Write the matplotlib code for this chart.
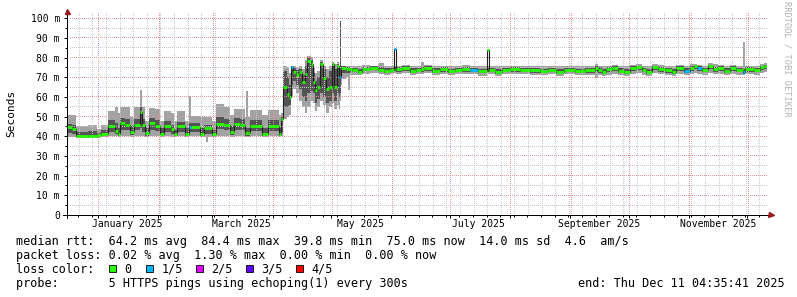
import datetime as dt
import matplotlib
matplotlib.use("Agg")
import matplotlib.pyplot as plt
import matplotlib.dates as mdates
from matplotlib.patches import Rectangle
from matplotlib.ticker import NullFormatter
from matplotlib.transforms import blended_transform_factory, IdentityTransform
import numpy as np

W, H = 797, 297
MONO = "DejaVu Sans Mono"

# 360 day window ending at the probe time
start = dt.datetime(2024, 12, 16, 4, 35, 41)
span_days = 360

# step start, days after window start (values in ms)
day = [0.0, 2.6, 4.6, 10.8, 15.4, 17.5, 21.1, 24.7, 26.2, 27.3,
       29.8, 32.4, 34.5, 37.6, 38.6, 40.1, 42.2, 45.3, 47.8, 49.9,
       53.5, 55.0, 56.6, 60.7, 62.8, 63.8, 68.4, 70.5, 71.5, 72.5,
       74.6, 76.6, 80.8, 83.8, 85.9, 89.0, 91.6, 92.1, 93.1, 94.1,
       100.3, 103.4, 109.1, 110.1,
       111.1, 113.2, 114.2, 115.2, 116.3, 117.8, 119.3, 120.9, 122.4, 123.5,
       125.5, 126.5, 127.6, 128.6, 130.1, 131.7, 133.2, 134.8, 136.3, 137.3,
       138.9, 139.9, 140.4, 140.9, 141.5, 143.5, 144.5, 145.6,
       146.6, 149.7, 151.7, 155.9, 160.0, 163.1, 166.2, 168.2, 169.2, 172.3,
       176.4, 179.5, 182.1, 183.6, 187.8, 191.9, 196.0, 199.6, 203.2, 207.3,
       211.4, 216.0, 217.1, 220.2, 223.8, 227.9, 233.0, 238.2, 243.3, 247.4,
       251.5, 255.7, 261.3, 266.5, 271.6, 273.1, 275.2, 277.3, 280.3, 283.4,
       286.5, 289.6, 292.7, 295.8, 297.8, 300.9, 304.0, 307.6, 311.2, 313.3,
       317.4, 320.5, 322.5, 324.1, 326.6, 329.7, 332.3, 334.9, 338.0, 341.0,
       344.1, 347.7, 348.8, 353.4, 356.5, 358.5]

median = [44.5, 43.5, 40.2, 40.0, 40.5, 41.0, 45.5, 42.5, 41.0, 47.0,
          46.0, 42.0, 46.0, 52.5, 46.0, 41.5, 47.0, 45.5, 41.0, 45.0,
          43.5, 41.0, 45.0, 41.0, 44.5, 44.5, 41.0, 44.0, 44.0, 44.0,
          41.0, 46.5, 46.0, 42.0, 46.5, 46.0, 41.5, 41.5, 41.5, 45.5,
          41.0, 45.5, 41.0, 49.0,
          65.0, 61.5, 60.0, 75.0, 72.5, 71.0, 72.5, 67.5, 71.5, 78.5,
          77.0, 67.5, 63.5, 65.0, 77.0, 69.5, 64.0, 65.0, 77.0, 65.0,
          76.0, 70.0, 70.0, 74.5, 74.5, 74.0, 74.0, 74.0,
          73.5, 72.5, 74.0, 74.5, 73.5, 73.0, 73.5, 84.5, 74.0, 74.5,
          73.0, 73.5, 74.0, 74.5, 73.0, 74.0, 73.0, 73.5, 74.0, 73.5,
          73.0, 84.0, 73.5, 72.5, 73.5, 74.0, 73.5, 73.5, 73.0, 73.5,
          72.5, 73.5, 73.0, 73.5, 74.5, 73.5, 72.5, 74.0, 74.5, 73.0,
          72.5, 74.5, 75.0, 73.5, 72.5, 75.0, 74.0, 73.5, 72.5, 74.5,
          73.0, 74.5, 75.5, 74.5, 73.5, 75.5, 74.0, 74.5, 73.0, 74.5,
          73.5, 72.5, 74.0, 73.5, 75.0, 75.5]

smoke_lo = [39.5, 39.5, 39.0, 39.0, 39.0, 39.5, 40.0, 40.0, 39.5, 40.0,
            40.0, 39.5, 40.0, 40.0, 40.0, 39.5, 40.0, 40.0, 39.5, 40.0,
            39.5, 39.5, 40.0, 39.5, 40.0, 40.0, 39.5, 39.5, 37.0, 39.5,
            39.5, 40.0, 40.0, 39.5, 40.0, 40.0, 39.5, 39.5, 39.5, 40.0,
            39.5, 40.0, 39.5, 40.0,
            49.0, 50.0, 51.0, 60.0, 64.0, 62.0, 58.0, 55.0, 52.0, 55.0,
            58.0, 57.0, 53.0, 55.0, 58.0, 56.0, 52.0, 55.0, 57.0, 54.0,
            56.0, 54.0, 58.0, 66.0, 69.0, 70.0, 63.5, 71.0,
            71.0, 71.0, 71.5, 72.0, 71.5, 71.0, 71.5, 72.0, 71.5, 72.0,
            71.0, 71.5, 71.5, 72.0, 71.0, 71.5, 71.0, 71.5, 71.5, 71.5,
            70.5, 71.5, 71.5, 70.5, 71.5, 71.5, 71.5, 71.0, 71.0, 71.5,
            70.5, 71.5, 71.0, 71.0, 69.5, 71.0, 70.5, 71.0, 71.5, 71.0,
            70.5, 71.5, 72.0, 71.0, 70.5, 72.0, 71.5, 71.0, 70.5, 71.5,
            71.0, 71.5, 72.0, 71.5, 71.0, 72.0, 71.5, 71.5, 71.0, 71.5,
            71.0, 71.0, 71.5, 71.0, 72.0, 72.5]

smoke_hi = [51.0, 51.0, 45.5, 46.0, 43.5, 46.0, 53.0, 55.0, 52.0, 55.0,
            55.0, 50.0, 55.0, 63.5, 55.0, 48.0, 54.5, 54.0, 48.0, 53.0,
            52.0, 48.0, 53.0, 48.0, 60.5, 50.5, 50.0, 50.0, 50.0, 50.0,
            48.0, 56.5, 55.0, 51.0, 54.0, 54.0, 50.0, 63.0, 50.0, 53.5,
            51.0, 53.5, 51.0, 52.0,
            76.0, 75.0, 72.0, 76.0, 76.0, 75.0, 75.5, 74.0, 79.0, 81.0,
            80.5, 75.0, 72.0, 73.0, 79.0, 76.0, 74.0, 76.0, 78.0, 77.0,
            78.0, 76.0, 98.5, 76.0, 76.0, 75.5, 75.5, 76.0,
            76.0, 75.5, 76.5, 76.0, 77.5, 76.0, 76.0, 76.0, 76.0, 76.5,
            76.0, 76.0, 78.0, 76.5, 76.0, 76.0, 75.5, 76.0, 76.5, 76.0,
            75.5, 76.0, 76.0, 75.5, 76.0, 76.0, 75.5, 76.0, 75.5, 76.0,
            75.5, 76.0, 75.5, 76.0, 77.0, 76.0, 75.5, 76.0, 76.5, 76.0,
            75.5, 76.5, 77.0, 76.0, 75.5, 77.0, 76.5, 76.0, 75.5, 76.5,
            76.0, 77.0, 77.0, 76.5, 76.0, 77.5, 77.0, 76.5, 76.0, 76.5,
            76.0, 88.0, 76.0, 76.0, 77.0, 77.5]

core_lo = [41.5, 41.0, 39.5, 39.5, 39.5, 40.0, 42.0, 41.0, 40.0, 43.0,
           43.0, 40.5, 43.0, 44.0, 42.0, 40.0, 43.0, 42.5, 40.0, 42.0,
           41.0, 40.0, 42.0, 40.0, 42.0, 42.0, 40.0, 41.0, 41.0, 41.0,
           40.0, 43.5, 43.0, 40.5, 43.0, 43.0, 40.0, 40.0, 40.0, 42.5,
           40.0, 42.5, 40.0, 42.0,
           55.0, 55.0, 56.0, 66.0, 68.0, 66.0, 64.0, 60.0, 58.0, 62.0,
           63.0, 62.0, 57.0, 59.0, 62.0, 60.0, 57.0, 58.0, 62.0, 58.0,
           62.0, 60.0, 62.0, 72.0, 72.0, 72.0, 72.0, 72.5,
           72.5, 72.0, 73.0, 73.5, 72.5, 72.0, 72.5, 73.0, 72.5, 73.0,
           72.0, 72.5, 72.5, 73.0, 72.0, 72.5, 72.0, 72.5, 72.5, 72.5,
           72.0, 72.5, 72.5, 71.5, 72.5, 72.5, 72.5, 72.0, 72.0, 72.5,
           71.5, 72.5, 72.0, 72.0, 72.5, 72.0, 71.5, 72.5, 73.0, 72.0,
           71.5, 73.0, 73.5, 72.5, 71.5, 73.5, 72.5, 72.0, 71.5, 73.0,
           72.0, 73.0, 74.0, 73.0, 72.5, 74.0, 72.5, 73.0, 72.0, 73.0,
           72.5, 71.5, 72.5, 72.5, 73.5, 74.0]

core_hi = [46.5, 46.0, 42.0, 42.5, 41.5, 43.0, 48.5, 47.0, 44.0, 49.5,
           49.0, 45.0, 49.0, 55.0, 49.0, 44.0, 49.5, 48.5, 44.0, 48.0,
           46.0, 43.0, 47.5, 44.0, 47.0, 47.0, 44.0, 46.0, 46.0, 46.0,
           43.0, 50.0, 49.0, 45.0, 49.5, 49.0, 44.0, 44.0, 44.0, 48.5,
           44.0, 48.5, 44.0, 50.0,
           73.0, 70.0, 66.0, 75.5, 74.5, 73.5, 74.0, 71.0, 76.0, 80.0,
           79.0, 72.0, 68.0, 70.0, 78.0, 74.0, 70.0, 73.0, 77.5, 74.0,
           77.0, 74.0, 98.5, 75.5, 75.5, 75.0, 75.0, 75.0,
           74.5, 74.0, 75.0, 75.5, 75.0, 74.5, 74.5, 75.0, 75.0, 75.5,
           74.5, 74.5, 75.0, 75.5, 74.5, 75.0, 74.0, 74.5, 75.0, 74.5,
           74.0, 75.0, 74.5, 74.0, 74.5, 75.0, 74.5, 74.5, 74.0, 74.5,
           74.0, 74.5, 74.0, 74.5, 75.5, 75.0, 74.0, 75.0, 75.5, 74.5,
           74.0, 75.5, 76.0, 74.5, 74.0, 76.0, 75.0, 74.5, 74.0, 75.5,
           74.5, 75.5, 76.0, 75.5, 74.5, 76.5, 75.0, 75.5, 74.5, 75.5,
           74.5, 74.0, 75.0, 74.5, 76.0, 76.5]

# pings lost out of 5 for each step
lost = [0] * 24 + [1] + [0] * 19 + \
       [0, 0, 0, 1] + [0] * 17 + [1, 1] + [0] * 5 + \
       [0] * 7 + [1] + [0] * 11 + [1] + [0] * 30 + [1, 0, 0, 1] + [0] * 7 + [1] + [0] * 4

loss_labels = ["0", "1/5", "2/5", "3/5", "4/5"]
loss_colors = ["#26ff00", "#00b8ff", "#dd00ff", "#5e00ff", "#ff0000"]

y_ticks = [0, 10, 20, 30, 40, 50, 60, 70, 80, 90, 100]
y_minor = [5, 15, 25, 35, 45, 55, 65, 75, 85, 95]
y_labels = ["0", "10 m", "20 m", "30 m", "40 m", "50 m",
            "60 m", "70 m", "80 m", "90 m", "100 m"]
month_label_dates = ["2025-01-16", "2025-03-16", "2025-05-16",
                     "2025-07-16", "2025-09-16", "2025-11-16"]
month_label_text = ["January 2025", "March 2025", "May 2025",
                    "July 2025", "September 2025", "November 2025"]

legend_rows = [
    "median rtt:  64.2 ms avg  84.4 ms max  39.8 ms min  75.0 ms now  14.0 ms sd  4.6  am/s",
    "packet loss: 0.02 % avg  1.30 % max  0.00 % min  0.00 % now",
    "loss color:",
    "probe:       5 HTTPS pings using echoping(1) every 300s",
]
end_text = "end: Thu Dec 11 04:35:41 2025"


def fx(px):
    return px / W


def fy(py):
    return 1 - py / H


fig = plt.figure(figsize=(W / 100, H / 100), dpi=100)
fig.patch.set_facecolor("white")
ax = fig.add_axes([fx(67), fy(215), 700 / W, 202 / H])
ax.set_facecolor("white")

t0 = mdates.date2num(start)
xe = t0 + np.array(day + [span_days])
n = len(day)
assert len(median) == n and len(smoke_lo) == n and len(smoke_hi) == n
assert len(core_lo) == n and len(core_hi) == n and len(lost) == n


def ext(v):
    return list(v) + [v[-1]]


ax.fill_between(xe, ext(smoke_lo), ext(smoke_hi), step="post",
                color="#a2a2a2", lw=0, zorder=1, antialiased=False)
ax.fill_between(xe, ext(core_lo), ext(core_hi), step="post",
                color="#545454", lw=0, zorder=1.1, antialiased=False)
ax.step(xe, ext(median), where="post", color="#202020", lw=0.8, zorder=3)
ax.hlines(median, xe[:-1], xe[1:], colors=[loss_colors[k] for k in lost],
          lw=2.0, zorder=4)

ax.set_xlim(t0, t0 + span_days)
ax.set_ylim(0, 102.7)

ax.xaxis.set_major_locator(mdates.MonthLocator())
ax.xaxis.set_minor_locator(mdates.WeekdayLocator(byweekday=mdates.SU))
ax.xaxis.set_major_formatter(NullFormatter())
ax.set_yticks(y_ticks, y_labels)
ax.set_yticks(y_minor, minor=True)
ax.tick_params(which="major", direction="out", length=2.2, width=0.72,
               pad=2.9, labelsize=7)
ax.tick_params(which="minor", direction="out", length=1.4, width=0.72)
for lab in ax.get_yticklabels():
    lab.set_fontfamily(MONO)

# rrdtool style dotted grid: one pixel on, one pixel off
ident = IdentityTransform()
(px0, py0), (px1, py1) = ax.transAxes.transform([(0, 0), (1, 1)])
row_x = np.arange(np.floor(px0) + 2.5, px1, 2)
col_y = np.arange(np.floor(py0) + 2.5, py1, 2)
month_pos = ax.xaxis.get_majorticklocs()
week_pos = [w for w in ax.xaxis.get_minorticklocs()
            if min(abs(w - m) for m in month_pos) > 0.5]


def dot_rows(values, color):
    for v in values:
        yp = np.floor(ax.transData.transform((t0, v))[1]) + 0.5
        ax.plot(row_x, np.full(row_x.size, yp), ls="none", marker=",",
                color=color, transform=ident, zorder=2)


def dot_cols(positions, color):
    for p in positions:
        xp = np.floor(ax.transData.transform((p, 0))[0]) + 0.5
        ax.plot(np.full(col_y.size, xp), col_y, ls="none", marker=",",
                color=color, transform=ident, zorder=2)


dot_cols(week_pos, "#c6c6c6")
dot_rows(y_minor, "#c6c6c6")
dot_cols(month_pos, "#e39696")
dot_rows(y_ticks[1:], "#e39696")

for s in ax.spines.values():
    s.set_visible(False)
ax.plot([0, 0], [-3 / 202, 1.005], transform=ax.transAxes, color="black",
        lw=0.72, clip_on=False, zorder=5)
ax.plot([-4 / 700, 1.005], [0, 0], transform=ax.transAxes, color="black",
        lw=0.72, clip_on=False, zorder=5)
ax.plot([0], [1 + 2 / 202], marker="^", ms=3.6, color="#9a1c1c",
        transform=ax.transAxes, clip_on=False, zorder=6)
ax.plot([1 + 4.3 / 700], [0], marker=">", ms=3.6, color="#9a1c1c",
        transform=ax.transAxes, clip_on=False, zorder=6)

trans = blended_transform_factory(ax.transData, ax.transAxes)
for d, txt in zip(month_label_dates, month_label_text):
    ax.text(mdates.datestr2num(d), -9 / 202, txt, transform=trans,
            ha="center", va="center", fontsize=7, family=MONO)

fig.text(fx(10.8), fy(113), "Seconds", rotation=90, ha="center",
         va="center", fontsize=8, family=MONO)
fig.text(fx(786.5), fy(59), "RRDTOOL / TOBI OETIKER", rotation=270,
         ha="center", va="center", fontsize=6.2, family=MONO, color="#b0b0b0")

for i, row in enumerate(legend_rows):
    fig.text(fx(16), fy(245 + 14 * i), row, fontsize=8.5, family=MONO,
             va="baseline", ha="left")
fig.text(fx(578), fy(287), end_text, fontsize=8.5, family=MONO,
         va="baseline", ha="left")

box_x = [108.5, 145.8, 195.7, 245.6, 295.5]
for bx, lab, col in zip(box_x, loss_labels, loss_colors):
    fig.patches.append(Rectangle((fx(bx), fy(272.3)), 7.3 / W, 7.3 / H,
                                 transform=fig.transFigure, facecolor=col,
                                 edgecolor="black", lw=0.6))
    fig.text(fx(bx + 15.5), fy(273), lab, fontsize=8.5, family=MONO,
             va="baseline", ha="left")

fig.savefig("out.png", dpi=100)
